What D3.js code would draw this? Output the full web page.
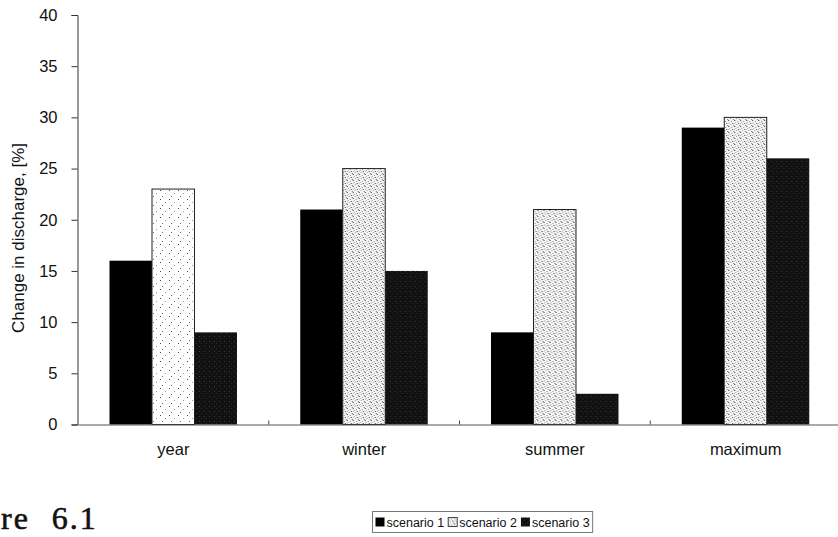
<!DOCTYPE html>
<html>
<head>
<meta charset="utf-8">
<script src="https://cdn.jsdelivr.net/npm/d3@7"></script>
<style>
  html, body { margin: 0; padding: 0; background: #fff; }
  svg { display: block; }
  text { font-family: "Liberation Sans", Arial, sans-serif; fill: #111; }
</style>
</head>
<body>
<svg id="chart" width="838" height="537"></svg>
<script>
const categories = ["year", "winter", "summer", "maximum"];
const scenarios = ["scenario 1", "scenario 2", "scenario 3"];
const scenario1 = [16, 21, 9, 29];
const scenario2 = [23, 25, 21, 30];
const scenario3 = [9, 15, 3, 26];
const yTicks = [0, 5, 10, 15, 20, 25, 30, 35, 40];
const yTitle = "Change in discharge, [%]";
const figLabel = "re 6.1";

const seriesValues = [scenario1, scenario2, scenario3];
const data = categories.map((c, i) => ({
  cat: c,
  vals: scenarios.map((s, j) => ({ scen: s, j, cat: c, i, v: seriesValues[j][i] }))
}));

const svg = d3.select("#chart");
const defs = svg.append("defs");

function addPattern(id, size, bg, dots) {
  const p = defs.append("pattern").attr("id", id)
    .attr("patternUnits", "userSpaceOnUse").attr("width", size).attr("height", size);
  p.append("rect").attr("width", size).attr("height", size).attr("fill", bg);
  dots.forEach(d => p.append("rect").attr("x", d[0]).attr("y", d[1])
    .attr("width", 1).attr("height", 1).attr("fill", d[2]));
}
addPattern("s2light", 9, "#ffffff", [[1,1,"#444"],[6,4,"#999"],[3,7,"#666"]]);
addPattern("s2dense", 6, "#f6f6f6", [[0,0,"#333"],[3,1,"#888"],[1,2,"#aaa"],[4,3,"#444"],[2,4,"#999"],[5,5,"#666"],[0,3,"#bbb"]]);
addPattern("s3", 5, "#111111", [[1,1,"#3a3a3a"],[3,3,"#2c2c2c"]]);

const fillFor = d => {
  if (d.j === 0) return "#000";
  if (d.j === 1) return d.i === 0 ? "url(#s2light)" : "url(#s2dense)";
  return "url(#s3)";
};

const x0 = d3.scaleBand().domain(categories).range([78, 841]).padding(0);
const x1 = d3.scaleBand().domain(scenarios).range([31.5, 159]).padding(0);
const y = d3.scaleLinear().domain([0, 40]).range([424.5, 15]);

// bars
const groups = svg.append("g").selectAll("g").data(data).join("g")
  .attr("transform", d => `translate(${x0(d.cat)},0)`);
groups.selectAll("rect").data(d => d.vals).join("rect")
  .attr("x", d => x1(d.scen))
  .attr("y", d => y(d.v))
  .attr("width", x1.bandwidth())
  .attr("height", d => y(0) - y(d.v))
  .attr("fill", fillFor)
  .attr("stroke", d => d.j === 1 ? "#222" : "none")
  .attr("stroke-width", 1);

// y axis
const yAxis = d3.axisLeft(y).tickValues(yTicks).tickSize(6).tickPadding(14);
const gy = svg.append("g").attr("transform", "translate(77.5,0)").call(yAxis);
gy.select(".domain").attr("stroke", "#333");
gy.selectAll(".tick line").attr("stroke", "#333");
gy.selectAll(".tick text").style("font-size", "16.5px").attr("fill", "#111");

// x axis
const xAxis = d3.axisBottom(x0).tickSize(0).tickPadding(19);
const gx = svg.append("g").attr("transform", `translate(0,${y(0)})`).call(xAxis);
gx.select(".domain").attr("stroke", "#555");
gx.selectAll(".tick text").style("font-size", "16.5px").attr("fill", "#111");
gx.selectAll(".bound").data(categories.slice(1)).join("line")
  .attr("class", "bound")
  .attr("x1", d => x0(d)).attr("x2", d => x0(d))
  .attr("y1", 0).attr("y2", -4).attr("stroke", "#444");

// y title
svg.append("text")
  .attr("transform", `translate(24,238) rotate(-90)`)
  .attr("text-anchor", "middle")
  .style("font-size", "17px")
  .text(yTitle);

// legend
const legend = svg.append("g");
const items = legend.selectAll("g").data(scenarios).join("g");
items.append("rect").attr("width", 9).attr("height", 9).attr("y", 6)
  .attr("fill", (d, j) => j === 0 ? "#000" : j === 1 ? "url(#s2dense)" : "url(#s3)")
  .attr("stroke", (d, j) => j === 1 ? "#444" : "none");
items.append("text").attr("x", 11).attr("y", 15).style("font-size", "12.5px").text(d => d);
let cx = 3;
items.each(function () {
  const w = this.getBBox().width;
  d3.select(this).attr("transform", `translate(${cx},0)`);
  cx += w + 4;
});
const legW = cx - 1;
legend.insert("rect", ":first-child")
  .attr("x", 0).attr("y", 0).attr("width", legW).attr("height", 21)
  .attr("fill", "#fff").attr("stroke", "#777");
legend.attr("transform", `translate(${Math.round(482.5 - legW / 2) + 0.5},511.5)`);

// figure label fragment visible at the lower-left edge of the scan
svg.append("text")
  .attr("x", 1).attr("y", 529)
  .style("font-family", "'Liberation Serif', 'Times New Roman', serif")
  .style("font-size", "32px")
  .style("stroke", "#111").style("stroke-width", "0.6px")
  .style("letter-spacing", "2px")
  .style("word-spacing", "12px")
  .text(figLabel);
</script>
</body>
</html>
